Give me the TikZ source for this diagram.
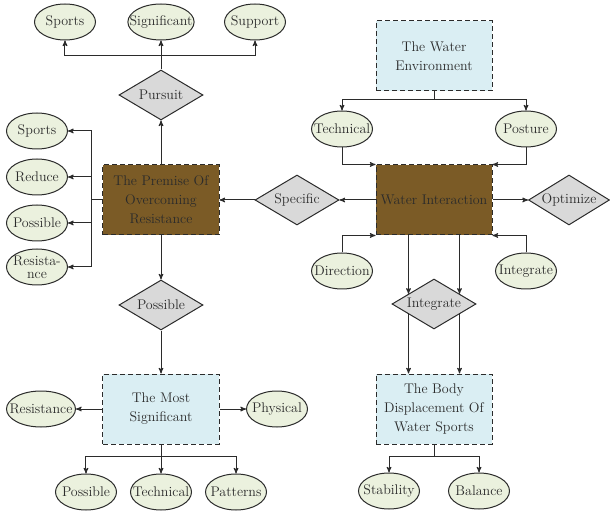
\documentclass[tikz,border=0pt]{standalone}
\usepackage{tikz}
\usetikzlibrary{arrows,positioning,shapes,shapes.geometric,calc}

\definecolor{leafgreen}{HTML}{EBF1DE}
\definecolor{linkgray}{HTML}{D9D9D9}
\definecolor{waterblue}{HTML}{DAEEF3}
\definecolor{mudbrown}{HTML}{7B5B26}
\definecolor{inkgray}{HTML}{2B2B2B}

\begin{document}
\begin{tikzpicture}[->,>=stealth',on grid,line width=1pt,draw=inkgray,
                    font=\fontsize{14}{19}\selectfont,text=inkgray,
                    term node/.style={ellipse,draw,fill=leafgreen,minimum width=61pt,minimum height=36pt,
                                      inner xsep=-8pt,inner ysep=-4pt,align=center},
                    link node/.style={diamond,draw,fill=linkgray,minimum width=84pt,minimum height=50pt,
                                      aspect=1.68,inner sep=0pt,align=center},
                    blue box/.style={rectangle,draw,dashed,dash pattern=on 5pt off 3pt,fill=waterblue,
                                     minimum width=116pt,minimum height=70pt,inner sep=1pt,align=center},
                    brown box/.style={blue box,fill=mudbrown}]

  \useasboundingbox (-161pt,-313pt) rectangle (449pt,200pt);

  \node[brown box] (premise) {The Premise Of\\Overcoming\\Resistance};
  \node[link node] [above = 105pt of premise] (pursuit) {Pursuit};
  \node[term node] [above = 73pt of pursuit] (signif) {Significant};
  \node[term node] [left = 96pt of signif] (sportsa) {Sports};
  \node[term node] [right = 94pt of signif] (support) {Support};
  \node[term node] [above left = 23pt and 124pt of premise] (reduce) {Reduce};
  \node[term node] [above = 46pt of reduce] (sportsb) {Sports};
  \node[term node] [below left = 23pt and 124pt of premise] (possibla) {Possible};
  \node[term node, font=\fontsize{14}{13}\selectfont] [below = 44pt of possibla] (resista) {Resista-\\nce};
  \node[link node] [right = 136pt of premise] (specific) {Specific};
  \node[brown box] [right = 137pt of specific] (water) {Water Interaction};
  \node[link node, minimum width=81pt] [right = 135pt of water] (optimize) {Optimize};
  \node[blue box] [above = 144pt of water] (environ) {The Water\\Environment};
  \node[term node] [above left = 71pt and 92pt of water] (techna) {Technical};
  \node[term node] [above right = 71pt and 92pt of water] (posture) {Posture};
  \node[term node] [below left = 71pt and 92pt of water] (direction) {Direction};
  \node[term node] [below right = 71pt and 92pt of water] (integra) {Integrate};
  \node[link node] [below = 104pt of water] (integrate) {Integrate};
  \node[blue box] [below = 105pt of integrate] (body) {The Body\\Displacement Of\\Water Sports};
  \node[term node] [below left = 82pt and 45pt of body] (stability) {Stability};
  \node[term node] [below right = 82pt and 45pt of body] (balance) {Balance};
  \node[link node] [below = 105pt of premise] (possibld) {Possible};
  \node[blue box] [below = 104pt of possibld] (most) {The Most\\Significant};
  \node[term node, minimum width=69pt] [left = 120pt of most] (resistance) {Resistance};
  \node[term node] [right = 116pt of most] (physical) {Physical};
  \node[term node] [below left = 83pt and 75pt of most] (possiblb) {Possible};
  \node[term node] [below = 83pt of most] (technb) {Technical};
  \node[term node] [below right = 83pt and 75pt of most] (patterns) {Patterns};

  \coordinate [above = 14pt of pursuit.north] (topbus);
  \coordinate [left = 11pt of premise.west] (leftbus);
  \coordinate [below = 8pt of environ.south] (envbus);
  \coordinate [below = 12pt of body.south] (bodybus);
  \coordinate [below = 12pt of most.south] (mostbus);
  \coordinate (inleft) at ($(integrate.north)!0.6!(integrate.west)$);
  \coordinate (inright) at ($(integrate.north)!0.6!(integrate.east)$);
  \coordinate (outleft) at ($(integrate.south)!0.6!(integrate.west)$);
  \coordinate (outright) at ($(integrate.south)!0.6!(integrate.east)$);

\draw (premise) -- (pursuit);
\draw (pursuit) -- (signif);
\draw (topbus) -| (sportsa);
\draw (topbus) -| (support);
\draw[-] (premise.west) -- (leftbus);
\draw (leftbus) |- (sportsb);
\draw (leftbus) |- (reduce);
\draw (leftbus) |- (possibla);
\draw (leftbus) |- (resista);
\draw (specific) -- (premise);
\draw (water) -- (specific);
\draw (water) -- (optimize);
\draw[-] (environ.south) -- (envbus);
\draw (envbus) -| (techna);
\draw (envbus) -| (posture);
\draw (techna) |- (water.north west);
\draw (posture) |- (water.north east);
\draw (direction) |- (water.south west);
\draw (integra) |- (water.south east);
\draw (water.south -| inleft) -- (inleft);
\draw (water.south -| inright) -- (inright);
\draw (outleft) -- (outleft |- body.north);
\draw (outright) -- (outright |- body.north);
\draw[-] (body.south) -- (bodybus);
\draw (bodybus) -| (stability);
\draw (bodybus) -| (balance);
\draw (premise) -- (possibld);
\draw (possibld) -- (most);
\draw (most) -- (resistance);
\draw (most) -- (physical);
\draw (most) -- (technb);
\draw (mostbus) -| (possiblb);
\draw (mostbus) -| (patterns);

\end{tikzpicture}
\end{document}
